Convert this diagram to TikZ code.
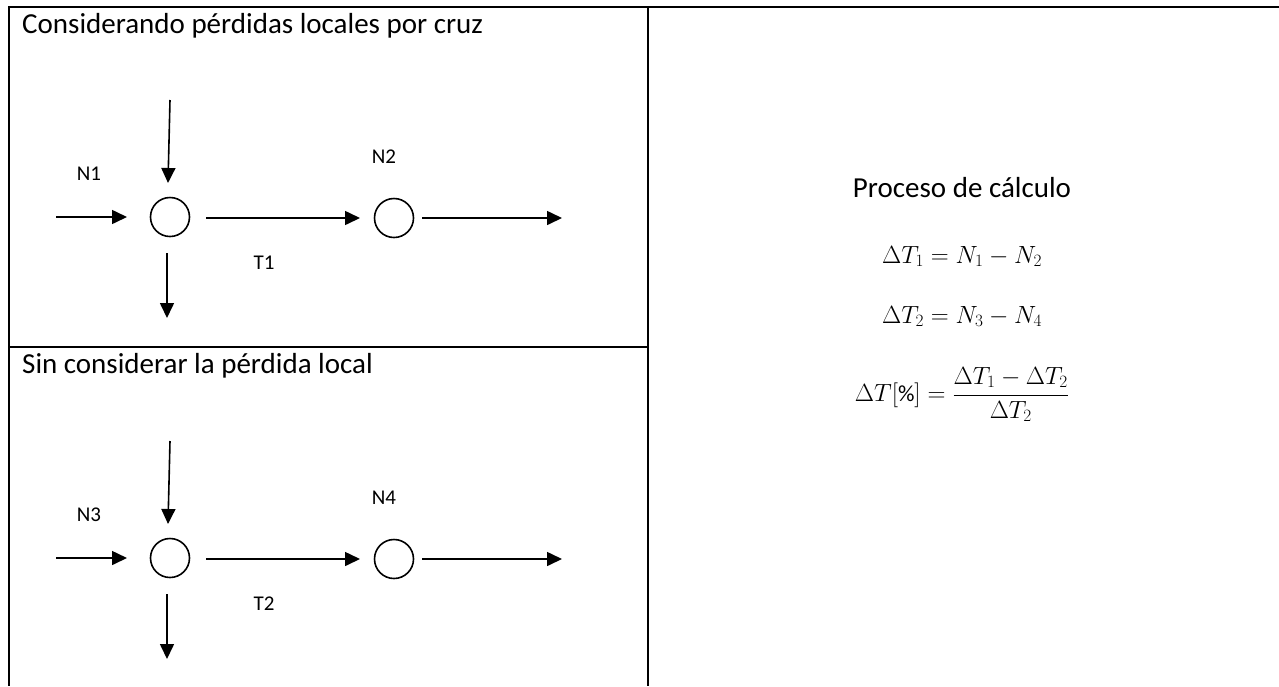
\documentclass[tikz,border=0pt]{standalone}
\usepackage{fontspec}
\setmainfont{Carlito}
\usetikzlibrary{arrows.meta}
\begin{document}
\begin{tikzpicture}[x=1pt,y=-1pt,
  frame/.style={line width=2pt,black},
  flow/.style={line width=1.6pt,-{Triangle[length=15pt,width=14pt]}},
  junction/.style={circle,draw,line width=1.6pt,minimum size=39pt,inner sep=0pt},
  title/.style={anchor=base west,inner sep=0pt,font=\fontsize{29}{34}\selectfont},
  lbl/.style={inner sep=0pt,font=\fontsize{21}{25}\selectfont},
  eq/.style={anchor=base,inner sep=0pt,font=\fontsize{23}{28}\selectfont}]
\useasboundingbox (0,0) rectangle (1279,686);
% table frame
\coordinate (tl) at (8.5,6.5);
\coordinate (tr) at (1279,6.5);
\coordinate (bl) at (8.5,686);
\coordinate (mt) at (648,6.5);
\coordinate (mb) at (648,686);
\coordinate (dl) at (8.5,347);
\coordinate (dr) at (648,347);
\draw[frame] (tr) -- (tl) -- (bl);
\draw[frame] (mt) -- (mb);
\draw[frame] (dl) -- (dr);
% titles
\node[title] (t1) at (22,33) {Considerando pérdidas locales por cruz};
\node[title] (t2) at (22,373.5) {Sin considerar la pérdida local};
% panels
\foreach \p/\dy/\na/\nb/\tt in {a/0/N1/N2/T1, b/341/N3/N4/T2}{
  \node[junction] (\p c1) at (170,217+\dy) {};
  \node[junction] (\p c2) at (394,218+\dy) {};
  \coordinate (\p top) at (170,100+\dy);
  \coordinate (\p topend) at (168,183+\dy);
  \coordinate (\p left) at (56,217+\dy);
  \coordinate (\p leftend) at (127,217+\dy);
  \coordinate (\p dn) at (167,253+\dy);
  \coordinate (\p dnend) at (167,318+\dy);
  \coordinate (\p mid) at (206,218+\dy);
  \coordinate (\p midend) at (360,218+\dy);
  \coordinate (\p out) at (422,218+\dy);
  \coordinate (\p outend) at (562,218+\dy);
  \draw[flow] (\p top) -- (\p topend);
  \draw[flow] (\p left) -- (\p leftend);
  \draw[flow] (\p dn) -- (\p dnend);
  \draw[flow] (\p mid) -- (\p midend);
  \draw[flow] (\p out) -- (\p outend);
  \node[lbl] (\p n1) at (89,174+\dy) {\na};
  \node[lbl] (\p n2) at (384,157+\dy) {\nb};
  \node[lbl] (\p t) at (264,263+\dy) {\tt};
}
% right cell
\node[eq] (proc) at (962,197) {\fontsize{29}{34}\selectfont Proceso de cálculo};
\node[eq] (e1) at (962,263) {$\Delta T_1 = N_1 - N_2$};
\node[eq] (e2) at (962,323) {$\Delta T_2 = N_3 - N_4$};
\node[eq] (e3) at (962,401) {$\displaystyle \Delta T[\%] = \frac{\Delta T_1 - \Delta T_2}{\Delta T_2}$};
\end{tikzpicture}
\end{document}
